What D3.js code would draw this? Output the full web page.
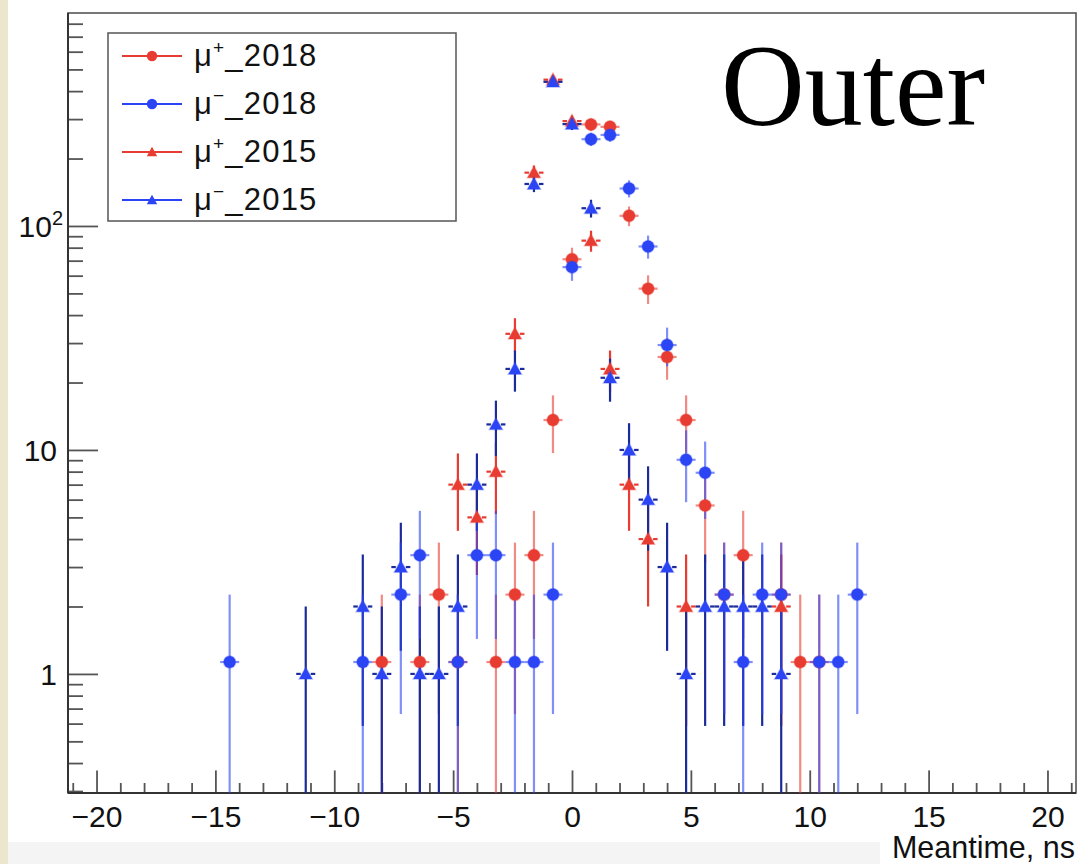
<!DOCTYPE html>
<html><head><meta charset="utf-8">
<script src="https://cdn.jsdelivr.net/npm/d3@7"></script>
<style>body{margin:0;background:#fff} svg{display:block}</style>
</head><body>
<svg id="c" width="1080" height="864"></svg>
<script>
// ---------------- data ----------------
const bins = [-14.4,-13.6,-12.8,-12.0,-11.2,-10.4,-9.6,-8.8,-8.0,-7.2,-6.4,-5.6,-4.8,-4.0,-3.2,-2.4,-1.6,-0.8,0,0.8,1.6,2.4,3.2,4.0,4.8,5.6,6.4,7.2,8.0,8.8,9.6,10.4,11.2,12.0];
const muPlus2018  = [null,null,null,null,null,null,null,null,1.13,null,1.13,2.26,1.13,null,1.13,2.26,3.39,13.6,71,284,277,111,52.5,26,13.6,5.65,2.26,3.39,null,2.26,1.13,1.13,null,null];
const muMinus2018 = [1.13,null,null,null,null,null,null,1.13,null,2.26,3.39,null,1.13,3.39,3.39,1.13,1.13,2.26,65.5,244,255,147,81,29.4,9.04,7.91,2.26,1.13,2.26,2.26,null,1.13,1.13,2.26];
const muPlus2015  = [null,null,null,null,null,null,null,null,null,null,null,null,7,5,8,33,173,450,294,86,23,7,4,null,2,null,null,null,null,2,null,null,null,null];
const muMinus2015 = [null,null,null,null,1,null,null,2,1,3,1,1,2,7,13,23,154,440,285,120,21,10,6,3,1,2,2,2,2,1,null,null,null,null];
const seriesLabels = [["μ","+","_2018"],["μ","−","_2018"],["μ","+","_2015"],["μ","−","_2015"]];
const xTickValues = [-20,-15,-10,-5,0,5,10,15,20];
const xMinorValues = d3.range(-21,22).filter(v => v % 5 !== 0);
const yTickValues = [1,10,100];
const yMinorValues = [0.3,0.4,0.5,0.6,0.7,0.8,0.9,2,3,4,5,6,7,8,9,20,30,40,50,60,70,80,90,200,300,400,500,600,700,800];
const norm2018 = 1.13;     // per-entry weight of the 2018 histograms (Poisson errors)
const binWidth = 0.8;
const xDomain = [-21.2, 21.2];
const yDomain = [0.294, 893];

// ---------------- layout ----------------
const svg = d3.select("#c");
const L = 68, R = 1076, T = 13, B = 793;
const x = d3.scaleLinear().domain(xDomain).range([L, R]);
const y = d3.scaleLog().domain(yDomain).range([B, T]);
const font = "'Liberation Sans', Arial, Helvetica, sans-serif";

const RED = "#e83c32", BLUE = "#2b45f5", NAVY = "#1b2b9a";

// backgrounds
svg.append("rect").attr("x",0).attr("y",0).attr("width",1080).attr("height",864).attr("fill","#fff");
svg.append("rect").attr("x",0).attr("y",0).attr("width",8).attr("height",864).attr("fill","#ece6cd");
svg.append("rect").attr("x",8).attr("y",842).attr("width",872).attr("height",22).attr("fill","#f4f4f4");

// frame
svg.append("rect").attr("x",L).attr("y",T).attr("width",R-L).attr("height",B-T)
  .attr("fill","none").attr("stroke","#555").attr("stroke-width",1.6);

svg.append("defs").append("clipPath").attr("id","clip")
  .append("rect").attr("x",L).attr("y",T).attr("width",R-L).attr("height",B-T);

// ---------------- axes ----------------
function styleAxis(g){
  g.select(".domain").remove();
  g.selectAll(".tick line").attr("stroke","#555").attr("stroke-width",1.8);
}
const gx = svg.append("g").attr("transform",`translate(0,${B})`)
  .call(d3.axisBottom(x).tickValues(xTickValues).tickSize(-22.6).tickSizeOuter(0).tickPadding(13)
    .tickFormat(d => d < 0 ? "\u2212" + Math.abs(d) : String(d)));
styleAxis(gx);
gx.selectAll(".tick text").attr("font-family",font).attr("font-size",30).attr("fill","#111");
const gxm = svg.append("g").attr("transform",`translate(0,${B})`)
  .call(d3.axisBottom(x).tickValues(xMinorValues).tickSize(-10).tickSizeOuter(0).tickFormat(""));
styleAxis(gxm);

const gy = svg.append("g").attr("transform",`translate(${L},0)`)
  .call(d3.axisLeft(y).tickValues(yTickValues).tickSize(-30).tickSizeOuter(0).tickFormat(""));
styleAxis(gy);
const gym = svg.append("g").attr("transform",`translate(${L},0)`)
  .call(d3.axisLeft(y).tickValues(yMinorValues).tickSize(-15).tickSizeOuter(0).tickFormat(""));
styleAxis(gym);

// axis lines
svg.append("line").attr("x1",L).attr("x2",R).attr("y1",B).attr("y2",B).attr("stroke","#333").attr("stroke-width",2);
svg.append("line").attr("x1",L).attr("x2",L).attr("y1",T).attr("y2",B).attr("stroke","#333").attr("stroke-width",2);

// y labels
yTickValues.forEach(v => {
  const t = svg.append("text").attr("font-family",font).attr("font-size",30).attr("fill","#111")
    .attr("text-anchor","end").attr("y", y(v) + 10.7);
  if (v === 100) {
    t.attr("x", 63);
    t.append("tspan").text("10");
    t.append("tspan").attr("font-size",20).attr("dy",-12).text("2");
  } else {
    t.attr("x", 57).text(String(v));
  }
});

// x title
svg.append("text").attr("x",1075).attr("y",858).attr("text-anchor","end")
  .attr("font-family",font).attr("font-size",30.5).attr("fill","#111").text("Meantime, ns");

// "Outer"
svg.append("text").attr("x",721).attr("y",125).attr("font-family","'Liberation Serif', 'Times New Roman', serif")
  .attr("font-size",116).attr("fill","#000").text("Outer");

// ---------------- data marks ----------------
const plot = svg.append("g").attr("clip-path","url(#clip)");
const hw = binWidth/2;
function pts(arr){ return bins.map((c,i)=>({c, v:arr[i]})).filter(d => d.v != null); }
function err(v, w){ return Math.sqrt(v * w); }
function lowY(v, e){ return v - e > yDomain[0]*0.5 ? y(v - e) : B + 10; }

const series = [
  {data: pts(muPlus2015),  w:1,        mk:"tri", fill:RED,  bar:RED,  barOp:1,   dashed:true},
  {data: pts(muPlus2018),  w:norm2018, mk:"dot", fill:RED,  bar:RED,  barOp:0.6, dashed:false},
  {data: pts(muMinus2015), w:1,        mk:"tri", fill:BLUE, bar:NAVY, barOp:1,   dashed:true},
  {data: pts(muMinus2018), w:norm2018, mk:"dot", fill:BLUE, bar:BLUE, barOp:0.6, dashed:false}
];

series.forEach(s => {
  const g = plot.append("g").attr("stroke", s.bar).attr("stroke-opacity", s.barOp).attr("stroke-width", 2.2);
  g.selectAll("line.v").data(s.data).join("line").attr("class","v")
    .attr("x1", d => x(d.c)).attr("x2", d => x(d.c))
    .attr("y1", d => y(d.v + err(d.v, s.w))).attr("y2", d => lowY(d.v, err(d.v, s.w)));
  if (s.dashed) {
    g.selectAll("line.hl").data(s.data).join("line").attr("class","hl")
      .attr("x1", d => x(d.c - hw)).attr("x2", d => x(d.c) - 5)
      .attr("y1", d => y(d.v)).attr("y2", d => y(d.v));
    g.selectAll("line.hr").data(s.data).join("line").attr("class","hr")
      .attr("x1", d => x(d.c) + 5).attr("x2", d => x(d.c + hw))
      .attr("y1", d => y(d.v)).attr("y2", d => y(d.v));
  } else {
    g.selectAll("line.h").data(s.data).join("line").attr("class","h")
      .attr("x1", d => x(d.c - hw)).attr("x2", d => x(d.c + hw))
      .attr("y1", d => y(d.v)).attr("y2", d => y(d.v));
  }
});

function triPath(cx, cy, s){ return `M${cx},${cy - 6.5*s}L${cx + 6.5*s},${cy + 5.2*s}L${cx - 6.5*s},${cy + 5.2*s}Z`; }

series.forEach(s => {
  const g = plot.append("g").attr("fill", s.fill).attr("stroke", s.fill).attr("stroke-opacity",0.35).attr("stroke-width",1.5);
  if (s.mk === "dot") {
    g.selectAll("circle").data(s.data).join("circle")
      .attr("cx", d => x(d.c)).attr("cy", d => y(d.v)).attr("r", 6);
  } else {
    g.selectAll("path").data(s.data).join("path")
      .attr("d", d => triPath(x(d.c), y(d.v), 1));
  }
});

// ---------------- legend ----------------
const lg = svg.append("g");
lg.append("rect").attr("x",108).attr("y",33).attr("width",348).attr("height",188)
  .attr("fill","#fff").attr("stroke","#555").attr("stroke-width",1.5);
const legendItems = [
  {lab:seriesLabels[0], col:RED,  mk:"dot"},
  {lab:seriesLabels[1], col:BLUE, mk:"dot"},
  {lab:seriesLabels[2], col:RED,  mk:"tri"},
  {lab:seriesLabels[3], col:BLUE, mk:"tri"}
];
legendItems.forEach((it, i) => {
  const cy = 56 + i*48;
  lg.append("line").attr("x1",122).attr("x2",182).attr("y1",cy).attr("y2",cy)
    .attr("stroke",it.col).attr("stroke-width",2.2);
  if (it.mk === "dot") lg.append("circle").attr("cx",152).attr("cy",cy).attr("r",5.2).attr("fill",it.col);
  else lg.append("path").attr("d", triPath(152, cy, 0.8)).attr("fill",it.col);
  const t = lg.append("text").attr("x",194).attr("y",cy + 10).attr("font-family",font)
    .attr("font-size",31).attr("letter-spacing",1.2).attr("fill","#111");
  t.append("tspan").text(it.lab[0]);
  t.append("tspan").attr("font-size",19).attr("dy",-12).text(it.lab[1]);
  t.append("tspan").attr("dy",12).text(it.lab[2]);
});
</script>
</body></html>
